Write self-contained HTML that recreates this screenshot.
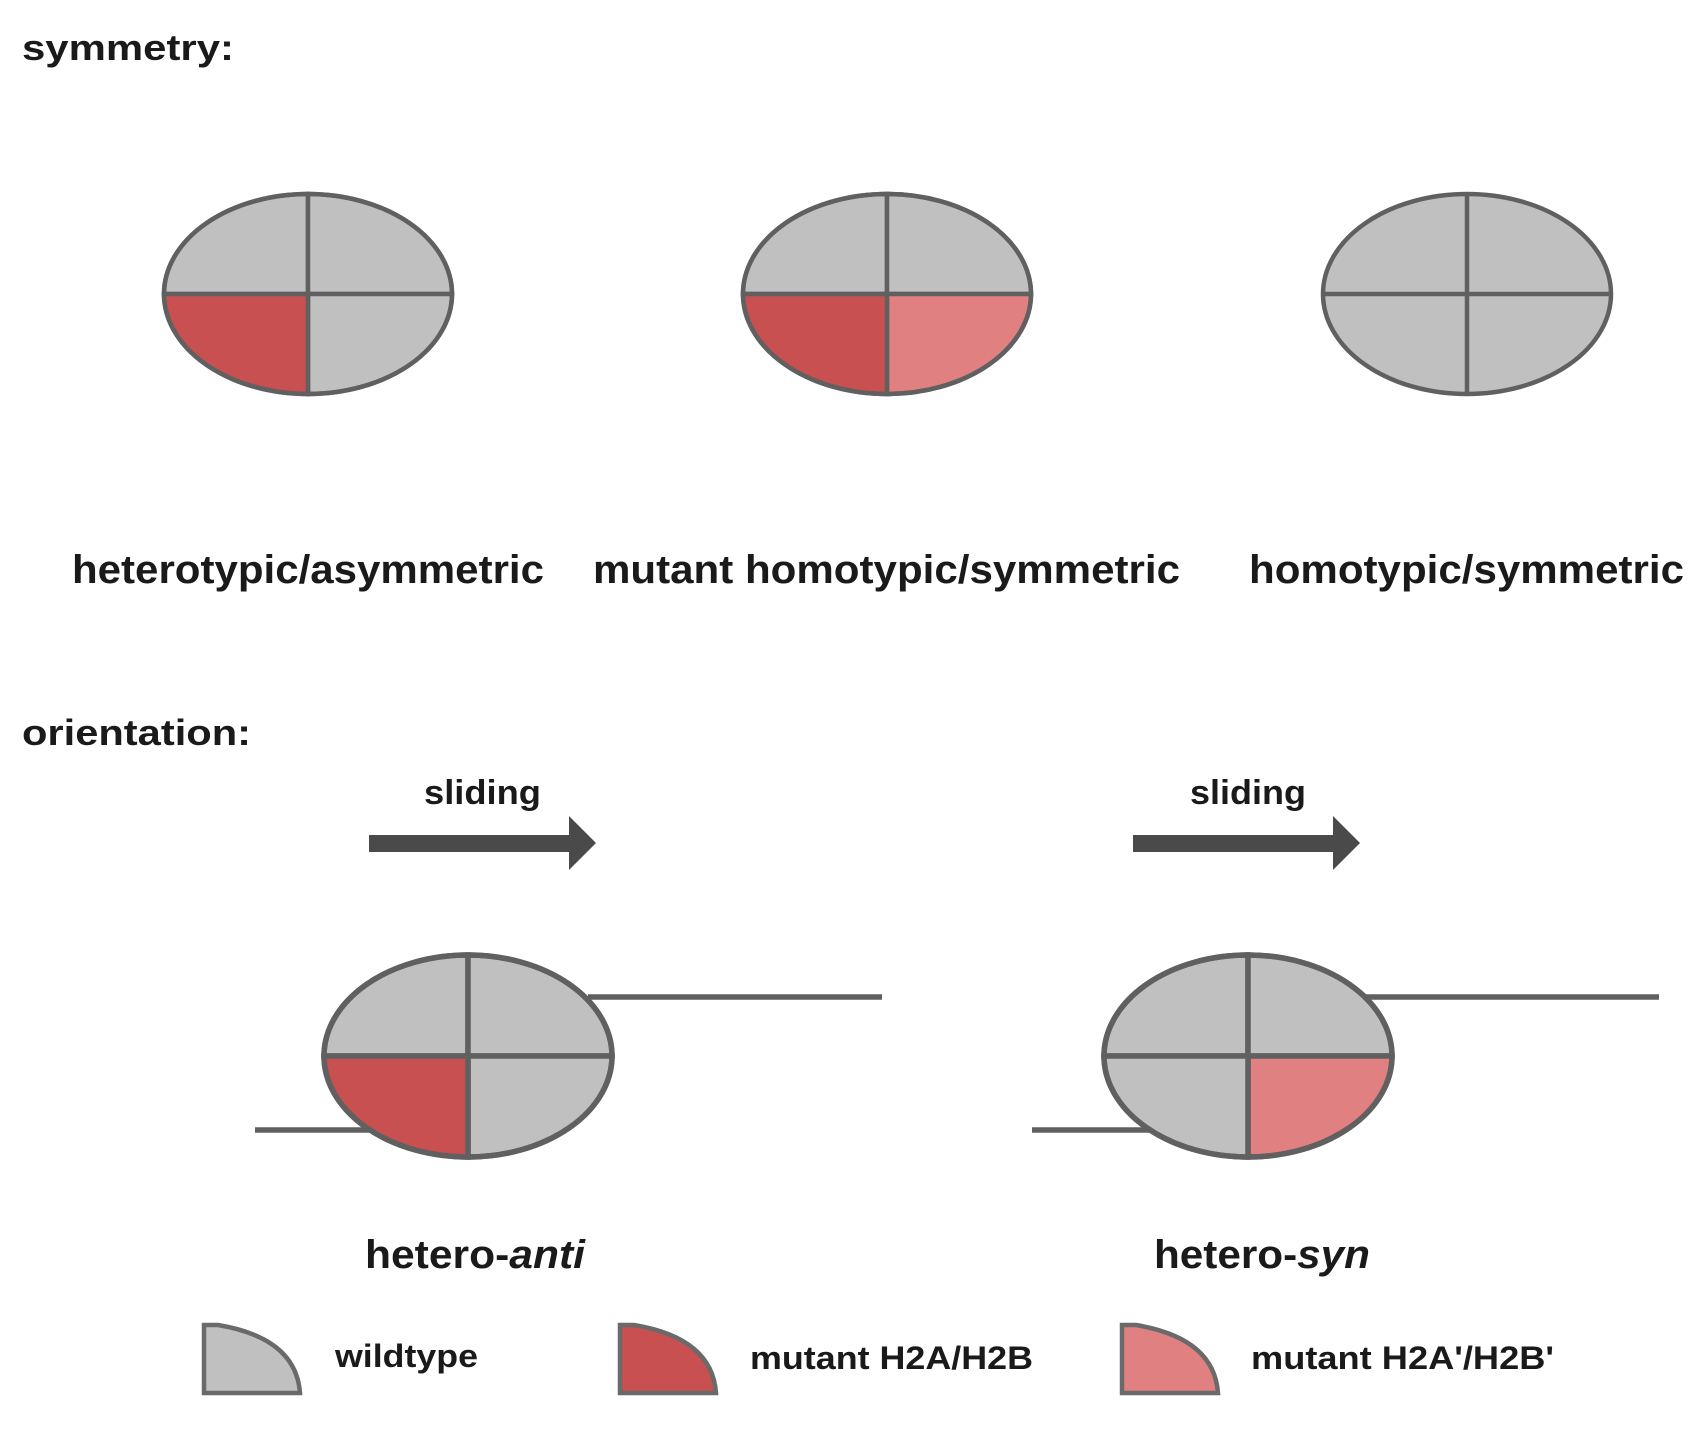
<!DOCTYPE html>
<html><head><meta charset="utf-8"><style>
html,body{margin:0;padding:0;background:#fff;}
svg{display:block;}
text{font-family:"Liberation Sans",Arial,sans-serif;font-weight:bold;fill:#1a1a1a;}
</style></head><body>
<svg width="1694" height="1431" viewBox="0 0 1694 1431" xmlns="http://www.w3.org/2000/svg">
<text x="22" y="60" font-size="36" textLength="212" lengthAdjust="spacingAndGlyphs">symmetry:</text>

<g stroke="#606060" stroke-width="4.5">
<path d="M308,294 L164,294 A144,100 0 0 1 308,194 Z" fill="#c0c0c0"/>
<path d="M308,294 L308,194 A144,100 0 0 1 452,294 Z" fill="#c0c0c0"/>
<path d="M308,294 L452,294 A144,100 0 0 1 308,394 Z" fill="#c0c0c0"/>
<path d="M308,294 L308,394 A144,100 0 0 1 164,294 Z" fill="#c85050"/>
<ellipse cx="308" cy="294" rx="144" ry="100" fill="none"/>
</g>
<g stroke="#606060" stroke-width="4.5">
<path d="M887,294 L743,294 A144,100 0 0 1 887,194 Z" fill="#c0c0c0"/>
<path d="M887,294 L887,194 A144,100 0 0 1 1031,294 Z" fill="#c0c0c0"/>
<path d="M887,294 L1031,294 A144,100 0 0 1 887,394 Z" fill="#e08080"/>
<path d="M887,294 L887,394 A144,100 0 0 1 743,294 Z" fill="#c85050"/>
<ellipse cx="887" cy="294" rx="144" ry="100" fill="none"/>
</g>
<g stroke="#606060" stroke-width="4.5">
<ellipse cx="1467" cy="294" rx="144" ry="100" fill="#c0c0c0"/>
<line x1="1323" y1="294" x2="1611" y2="294"/>
<line x1="1467" y1="194" x2="1467" y2="394"/>
</g>

<text x="72" y="583" font-size="40" textLength="472" lengthAdjust="spacingAndGlyphs">heterotypic/asymmetric</text>
<text x="593" y="583" font-size="40" textLength="587" lengthAdjust="spacingAndGlyphs">mutant homotypic/symmetric</text>
<text x="1249" y="583" font-size="40" textLength="435" lengthAdjust="spacingAndGlyphs">homotypic/symmetric</text>

<text x="22" y="745" font-size="36" textLength="229" lengthAdjust="spacingAndGlyphs">orientation:</text>

<text x="424" y="804" font-size="34" textLength="117" lengthAdjust="spacingAndGlyphs">sliding</text>
<text x="1190" y="804" font-size="34" textLength="116" lengthAdjust="spacingAndGlyphs">sliding</text>
<path d="M369,835 L569,835 L569,816 L596,843 L569,870 L569,852 L369,852 Z" fill="#4a4a4a"/>
<path d="M1133,835 L1333,835 L1333,816 L1360,843 L1333,870 L1333,852 L1133,852 Z" fill="#4a4a4a"/>

<g stroke="#606060" stroke-width="5.5">
<line x1="588" y1="997" x2="882" y2="997"/>
<line x1="255" y1="1130" x2="380" y2="1130"/>
<path d="M468,1056 L324,1056 A144,101 0 0 1 468,955 Z" fill="#c0c0c0"/>
<path d="M468,1056 L468,955 A144,101 0 0 1 612,1056 Z" fill="#c0c0c0"/>
<path d="M468,1056 L612,1056 A144,101 0 0 1 468,1157 Z" fill="#c0c0c0"/>
<path d="M468,1056 L468,1157 A144,101 0 0 1 324,1056 Z" fill="#c85050"/>
<ellipse cx="468" cy="1056" rx="144" ry="101" fill="none"/>
</g>
<g stroke="#606060" stroke-width="5.5">
<line x1="1364" y1="997" x2="1659" y2="997"/>
<line x1="1032" y1="1130" x2="1155" y2="1130"/>
<path d="M1248,1056 L1104,1056 A144,101 0 0 1 1248,955 Z" fill="#c0c0c0"/>
<path d="M1248,1056 L1248,955 A144,101 0 0 1 1392,1056 Z" fill="#c0c0c0"/>
<path d="M1248,1056 L1392,1056 A144,101 0 0 1 1248,1157 Z" fill="#e08080"/>
<path d="M1248,1056 L1248,1157 A144,101 0 0 1 1104,1056 Z" fill="#c0c0c0"/>
<ellipse cx="1248" cy="1056" rx="144" ry="101" fill="none"/>
</g>

<text x="365" y="1268" font-size="40" textLength="220" lengthAdjust="spacingAndGlyphs">hetero-<tspan font-style="italic">anti</tspan></text>
<text x="1154" y="1268" font-size="40" textLength="216" lengthAdjust="spacingAndGlyphs">hetero-<tspan font-style="italic">syn</tspan></text>

<g stroke="#6a6a6a" stroke-width="4.5">
<path d="M204,1393 L204,1325 L218,1325 Q296,1338 300,1393 Z" fill="#c0c0c0"/>
<path d="M620,1393 L620,1325 L634,1325 Q712,1338 716,1393 Z" fill="#c85050"/>
<path d="M1122,1393 L1122,1325 L1136,1325 Q1214,1338 1218,1393 Z" fill="#e08080"/>
</g>
<text x="335" y="1367" font-size="32" textLength="143" lengthAdjust="spacingAndGlyphs">wildtype</text>
<text x="750" y="1369" font-size="32" textLength="283" lengthAdjust="spacingAndGlyphs">mutant H2A/H2B</text>
<text x="1251" y="1369" font-size="32" textLength="303" lengthAdjust="spacingAndGlyphs">mutant H2A'/H2B'</text>
</svg>
</body></html>
